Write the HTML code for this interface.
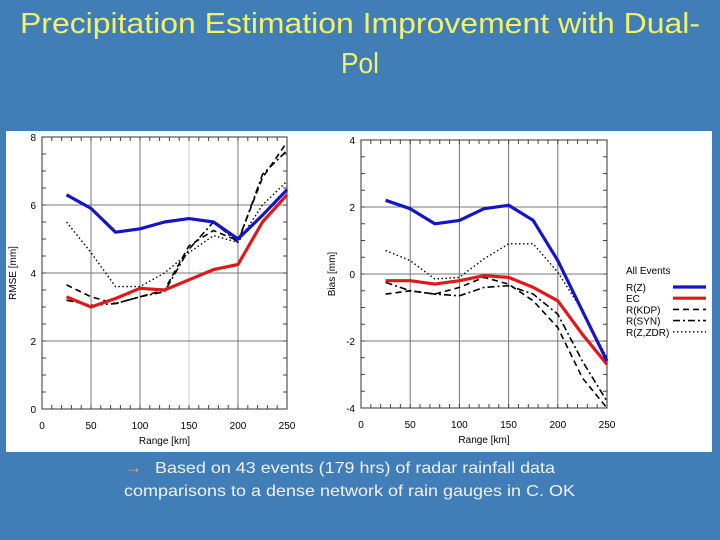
<!DOCTYPE html>
<html><head><meta charset="utf-8"><style>
html,body{margin:0;padding:0;background:#417db6;}
svg{display:block;font-family:"Liberation Sans",sans-serif;}
</style></head><body>
<svg id="s" width="720" height="540" viewBox="0 0 720 540" xmlns="http://www.w3.org/2000/svg">
<rect x="0" y="0" width="720" height="540" fill="#417db6"/>
<text x="360" y="33" text-anchor="middle" font-size="29" fill="#f2f266" textLength="680" lengthAdjust="spacingAndGlyphs">Precipitation Estimation Improvement with Dual-</text>
<text x="360" y="73" text-anchor="middle" font-size="29" fill="#f2f266" textLength="38" lengthAdjust="spacingAndGlyphs">Pol</text>
<rect x="6" y="131" width="706" height="321" fill="#ffffff"/>
<g id="charts"></g>
<text x="125" y="473" font-size="17" fill="#f4a060">→</text>
<text x="155" y="473" font-size="16" fill="#f2f2f2" textLength="400" lengthAdjust="spacingAndGlyphs">Based on 43 events (179 hrs) of radar rainfall data</text>
<text x="124" y="496" font-size="16" fill="#f2f2f2" textLength="451" lengthAdjust="spacingAndGlyphs">comparisons to a dense network of rain gauges in C. OK</text>
</svg>
<script>
const ranges = [25,50,75,100,125,150,175,200,225,250];
const rmseRZ  = [6.3,5.9,5.2,5.3,5.5,5.6,5.5,5.0,5.7,6.45];
const rmseEC  = [3.3,3.0,3.25,3.55,3.5,3.8,4.1,4.25,5.5,6.3];
const rmseKDP = [3.65,3.3,3.1,3.3,3.5,4.8,5.25,4.95,6.8,7.85];
const rmseSYN = [3.2,3.05,3.1,3.3,3.45,4.7,5.5,4.9,6.9,7.6];
const rmseZDR = [5.5,4.6,3.6,3.6,4.0,4.6,5.1,4.9,6.0,6.7];
const biasRZ  = [2.2,1.95,1.5,1.6,1.95,2.05,1.6,0.4,-1.1,-2.6];
const biasEC  = [-0.2,-0.2,-0.3,-0.2,-0.05,-0.1,-0.4,-0.8,-1.8,-2.7];
const biasKDP = [-0.6,-0.5,-0.6,-0.4,-0.1,-0.3,-0.8,-1.6,-3.1,-4.0];
const biasSYN = [-0.25,-0.5,-0.6,-0.65,-0.4,-0.35,-0.6,-1.2,-2.6,-3.8];
const biasZDR = [0.7,0.4,-0.15,-0.1,0.45,0.9,0.9,0.05,-1.1,-2.5];
const xTicks = [0,50,100,150,200,250];
const rmseTicks = [0,2,4,6,8];
const biasTicks = [-4,-2,0,2,4];
const seriesNames = ["R(Z)","EC","R(KDP)","R(SYN)","R(Z,ZDR)"];

const NS="http://www.w3.org/2000/svg";
const root=document.getElementById('charts');
function mk(tag,attrs,parent){const e=document.createElementNS(NS,tag);for(const k in attrs)e.setAttribute(k,attrs[k]);(parent||root).appendChild(e);return e;}
const styles=[
 {stroke:"#1515c8",w:3.2,dash:""},
 {stroke:"#e01818",w:3.2,dash:""},
 {stroke:"#000",w:1.6,dash:"6,4"},
 {stroke:"#000",w:1.6,dash:"7,3,2,3"},
 {stroke:"#000",w:1.4,dash:"1.5,2.5"}
];
function drawChart(key,x0,x1,yTop,yBot,ymin,ymax,ticks,series,ylabel,lightMid){
  const g=mk('g',{});
  
  
  const sx=v=>x0+(v-0)/(250-0)*(x1-x0);
  const sy=v=>yBot-(v-ymin)/(ymax-ymin)*(yBot-yTop);
  // grid
  [50,100,150,200].forEach(v=>{
    const l=mk('line',{x1:sx(v),x2:sx(v),y1:yTop,y2:yBot,stroke:(lightMid&&v===150)?"#ccc":"#777","stroke-width":1},g);
    
    
  });
  ticks.slice(1,-1).forEach(v=>{
    const l=mk('line',{x1:x0,x2:x1,y1:sy(v),y2:sy(v),stroke:"#777","stroke-width":1},g);
    
    
  });
  // minor ticks
  for(let v=0;v<=250;v+=10){
    mk('line',{x1:sx(v),x2:sx(v),y1:yBot,y2:yBot-4,stroke:"#444"},g);
    mk('line',{x1:sx(v),x2:sx(v),y1:yTop,y2:yTop+4,stroke:"#444"},g);
  }
  const step=(ymax-ymin)/16;
  for(let v=ymin;v<=ymax+1e-9;v+=step){
    mk('line',{x1:x0,x2:x0+4,y1:sy(v),y2:sy(v),stroke:"#444"},g);
    mk('line',{x1:x1,x2:x1-4,y1:sy(v),y2:sy(v),stroke:"#444"},g);
  }
  const fr=mk('rect',{x:x0,y:yTop,width:x1-x0,height:yBot-yTop,fill:"none",stroke:"#333","stroke-width":1},g);
  
  
  xTicks.forEach(v=>{
    const t=mk('text',{x:sx(v),y:yBot+20,"text-anchor":"middle","font-size":10,fill:"#000"},g);
    t.textContent=v;
    
    
  });
  ticks.forEach(v=>{
    const t=mk('text',{x:x0-6,y:sy(v)+4,"text-anchor":"end","font-size":10,fill:"#000"},g);
    t.textContent=v;
    
    
  });
  const xt=mk('text',{x:(x0+x1)/2,y:yBot+35,"text-anchor":"middle","font-size":10,fill:"#000"},g);
  xt.textContent="Range [km]";
  
  
  const cy=(yTop+yBot)/2;
  const yt=mk('text',{x:x0-26,y:cy,"text-anchor":"middle","font-size":10,fill:"#000",transform:`rotate(-90 ${x0-26} ${cy})`},g);
  yt.textContent=ylabel;
  
  
  // draw in order: dotted, dashdot, dashed, red, blue
  [4,3,2,1,0].forEach(i=>{
    const d=series[i].map((v,j)=>(j?'L':'M')+sx(ranges[j]).toFixed(1)+','+sy(v).toFixed(1)).join('');
    const p=mk('path',{d:d,fill:"none",stroke:styles[i].stroke,"stroke-width":styles[i].w,"stroke-dasharray":styles[i].dash,"stroke-linejoin":"round"},g);
    
    
  });
}
drawChart('rmse',42,287,137,409,0,8,rmseTicks,[rmseRZ,rmseEC,rmseKDP,rmseSYN,rmseZDR],"RMSE [mm]",true);
drawChart('bias',361,607,140,408,-4,4,biasTicks,[biasRZ,biasEC,biasKDP,biasSYN,biasZDR],"Bias [mm]",false);
// legend
const lg=mk('g',{});


const lt=mk('text',{x:626,y:274,"font-size":10,fill:"#000"},lg);
lt.textContent="All Events";


seriesNames.forEach((n,i)=>{
  const y=287+i*11.2;
  const t=mk('text',{x:626,y:y+4,"font-size":10,fill:"#000"},lg);
  t.textContent=n;
  
  
  const l=mk('line',{x1:673,x2:706,y1:y,y2:y,stroke:styles[i].stroke,"stroke-width":styles[i].w,"stroke-dasharray":styles[i].dash},lg);
  
  
});
</script>
</body></html>
